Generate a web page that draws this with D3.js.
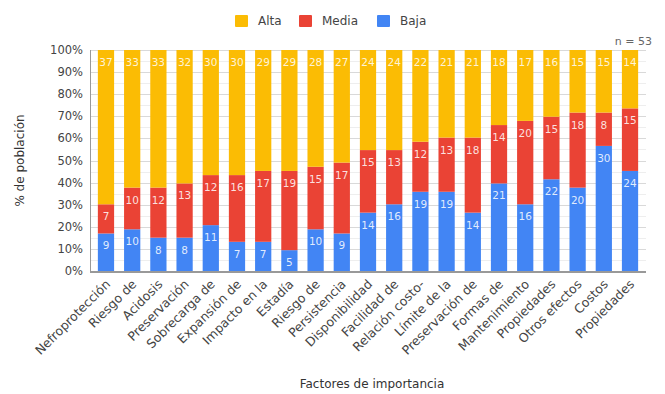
<!DOCTYPE html>
<html>
<head>
<meta charset="utf-8">
<script src="https://cdn.jsdelivr.net/npm/d3@7"></script>
<style>
    body { margin: 0; background: #fff; }
    text { font-family: "DejaVu Sans", Verdana, sans-serif; }
</style>
</head>
<body>
<svg id="chart" width="665" height="394"></svg>
<script>
// Categories along the x axis.
var categories = ['Nefroprotección', 'Riesgo de', 'Acidosis', 'Preservación', 'Sobrecarga de',
    'Expansión de', 'Impacto en la', 'Estadía', 'Riesgo de', 'Persistencia', 'Disponibilidad',
    'Facilidad de', 'Relación costo-', 'Límite de la', 'Preservación de', 'Formas de',
    'Mantenimiento', 'Propiedades', 'Otros efectos', 'Costos', 'Propiedades'];

// Counts per level (n = 53 each).
var baja = [9, 10, 8, 8, 11, 7, 7, 5, 10, 9, 14, 16, 19, 19, 14, 21, 16, 22, 20, 30, 24];
var media = [7, 10, 12, 13, 12, 16, 17, 19, 15, 17, 15, 13, 12, 13, 18, 14, 20, 15, 18, 8, 15];
var alta = [37, 33, 33, 32, 30, 30, 29, 29, 28, 27, 24, 24, 22, 21, 21, 18, 17, 16, 15, 15, 14];

var seriesKeys = ['baja', 'media', 'alta'];
var legendItems = [
    { key: 'alta', label: 'Alta' },
    { key: 'media', label: 'Media' },
    { key: 'baja', label: 'Baja' }
];
var yTicks = [0, 0.1, 0.2, 0.3, 0.4, 0.5, 0.6, 0.7, 0.8, 0.9, 1];

var colors = { alta: '#fbbc04', media: '#ea4335', baja: '#4285f4' };

var svg = d3.select('#chart');

var margin = { left: 90, right: 19, top: 50, bottom: 123 };
var width = 665 - margin.left - margin.right;
var height = 394 - margin.top - margin.bottom;

// Build rows for the stack.
var rows = categories.map(function (c, i) {
    var total = baja[i] + media[i] + alta[i];
    return { idx: i, total: total, baja: baja[i], media: media[i], alta: alta[i] };
});

var stack = d3.stack()
    .keys(seriesKeys)
    .value(function (d, key) { return d[key] / d.total; });

var layers = stack(rows);

var x = d3.scaleBand()
    .domain(d3.range(categories.length))
    .range([0, width])
    .paddingInner(0.38)
    .paddingOuter(0.3);

var y = d3.scaleLinear()
    .domain([0, 1])
    .range([height, 0]);

var g = svg.append('g')
    .attr('transform', 'translate(' + margin.left + ',' + margin.top + ')');

// Minor gridlines.
g.append('g')
    .selectAll('line')
    .data(d3.range(0.05, 1, 0.1))
    .enter()
    .append('line')
    .attr('x1', 0)
    .attr('x2', width)
    .attr('y1', function (d) { return Math.round(y(d)) + 0.5; })
    .attr('y2', function (d) { return Math.round(y(d)) + 0.5; })
    .attr('stroke', '#eeeeee');

// Major gridlines.
g.append('g')
    .selectAll('line')
    .data(yTicks.slice(1))
    .enter()
    .append('line')
    .attr('x1', 0)
    .attr('x2', width)
    .attr('y1', function (d) { return Math.round(y(d)) + 0.5; })
    .attr('y2', function (d) { return Math.round(y(d)) + 0.5; })
    .attr('stroke', '#d9d9d9');

// Y axis labels.
g.append('g')
    .selectAll('text')
    .data(yTicks)
    .enter()
    .append('text')
    .attr('x', -7)
    .attr('y', function (d) { return y(d); })
    .attr('dy', '0.35em')
    .attr('text-anchor', 'end')
    .attr('font-size', 11.5)
    .attr('fill', '#444')
    .text(function (d) { return Math.round(d * 100) + '%'; });

// Bars.
var layer = g.append('g')
    .selectAll('g.layer')
    .data(layers)
    .enter()
    .append('g')
    .attr('class', 'layer')
    .attr('fill', function (d) { return colors[d.key]; });

layer.selectAll('rect')
    .data(function (d) { return d; })
    .enter()
    .append('rect')
    .attr('x', function (d) { return x(d.data.idx); })
    .attr('y', function (d) { return y(d[1]); })
    .attr('width', x.bandwidth())
    .attr('height', function (d) { return y(d[0]) - y(d[1]); });

// Value labels near the top of each segment.
layers.forEach(function (l) {
    g.append('g')
        .selectAll('text')
        .data(l)
        .enter()
        .append('text')
        .attr('x', function (d) { return x(d.data.idx) + x.bandwidth() / 2; })
        .attr('y', function (d) { return y(d[1]) + 16; })
        .attr('text-anchor', 'middle')
        .attr('font-size', 10.5)
        .attr('fill', '#fff')
        .attr('fill-opacity', 0.85)
        .text(function (d) { return d.data[l.key]; });
});

// Left axis line and baseline.
g.append('line')
    .attr('x1', 0.5).attr('x2', 0.5)
    .attr('y1', 0).attr('y2', height)
    .attr('stroke', '#999');

g.append('line')
    .attr('x1', 0).attr('x2', width)
    .attr('y1', height + 1).attr('y2', height + 1)
    .attr('stroke', '#999')
    .attr('stroke-width', 2);

// X labels, rotated.
g.append('g')
    .selectAll('text')
    .data(categories)
    .enter()
    .append('text')
    .attr('transform', function (d, i) {
        var cx = x(i) + x.bandwidth() / 2 + 5;
        return 'translate(' + cx + ',' + (height + 14) + ') rotate(-45)';
    })
    .attr('text-anchor', 'end')
    .attr('font-size', 12.5)
    .attr('fill', '#444')
    .text(function (d) { return d; });

// Axis titles.
svg.append('text')
    .attr('transform', 'translate(24,' + (margin.top + height / 2) + ') rotate(-90)')
    .attr('text-anchor', 'middle')
    .attr('font-size', 12)
    .attr('fill', '#333')
    .text('% de población');

svg.append('text')
    .attr('x', 372)
    .attr('y', 388)
    .attr('text-anchor', 'middle')
    .attr('font-size', 12)
    .attr('fill', '#333')
    .text('Factores de importancia');

svg.append('text')
    .attr('x', 652)
    .attr('y', 45)
    .attr('text-anchor', 'end')
    .attr('font-size', 11)
    .attr('fill', '#666')
    .text('n = 53');

// Legend.
var legendX = [235, 299, 377];
var legend = svg.append('g')
    .selectAll('g')
    .data(legendItems)
    .enter()
    .append('g')
    .attr('transform', function (d, i) { return 'translate(' + legendX[i] + ',15)'; });

legend.append('rect')
    .attr('width', 13)
    .attr('height', 12)
    .attr('rx', 1)
    .attr('fill', function (d) { return colors[d.key]; });

legend.append('text')
    .attr('x', 23)
    .attr('y', 6)
    .attr('dy', '0.35em')
    .attr('font-size', 12)
    .attr('fill', '#444')
    .text(function (d) { return d.label; });
</script>
</body>
</html>
